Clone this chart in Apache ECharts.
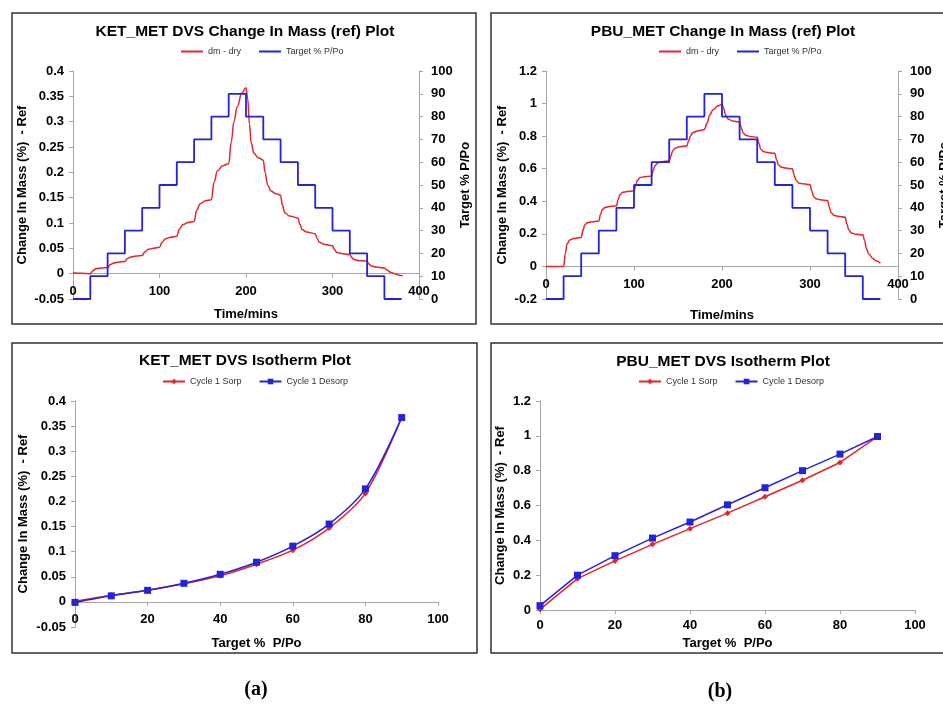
<!DOCTYPE html>
<html>
<head>
<meta charset="utf-8">
<script src="https://cdn.jsdelivr.net/npm/echarts@6/dist/echarts.min.js"></script>
<style>
  html, body { margin: 0; padding: 0; background: #fff; }
  #main { width: 943px; height: 704px; }
</style>
</head>
<body>
<div id="main"></div>
<script>
// humidity programme: start of each 20 min step and its setpoint (% P/Po)
var stepTime = [0, 20, 40, 60, 80, 100, 120, 140, 160, 180, 200, 220, 240, 260, 280, 300, 320, 340, 360, 380];
var stepRH   = [0, 10, 20, 30, 40, 50, 60, 70, 80, 90, 80, 70, 60, 50, 40, 30, 20, 10, 0, 0];

// KET_MET kinetic trace (dm - dry, %)
var ketTime = [0, 10, 20, 23, 27, 33, 40, 43, 47, 53, 60, 63, 67, 73, 80, 83, 87, 93, 100,
  103, 107, 113, 120, 123, 127, 133, 140, 143, 147, 153, 160, 163, 167, 173, 180,
  183, 186, 190, 195, 200, 202, 204, 206, 209, 214, 220, 222, 225, 229, 234, 240,
  242, 245, 250, 260, 262, 265, 270, 280, 282, 285, 290, 300, 302, 305, 310, 320,
  322, 325, 330, 340, 342, 345, 350, 360, 363, 367, 372, 377, 381];
var ketMass = [0.002, 0.001, 0.000, 0.006, 0.010, 0.011, 0.012, 0.018, 0.021, 0.023, 0.024, 0.030, 0.033, 0.035, 0.036, 0.043, 0.048, 0.050, 0.052,
  0.062, 0.069, 0.072, 0.074, 0.088, 0.097, 0.101, 0.103, 0.125, 0.138, 0.144, 0.146, 0.180, 0.203, 0.213, 0.217,
  0.260, 0.300, 0.330, 0.356, 0.367, 0.345, 0.295, 0.258, 0.238, 0.229, 0.224, 0.200, 0.175, 0.163, 0.158, 0.155,
  0.135, 0.120, 0.114, 0.110, 0.098, 0.087, 0.082, 0.079, 0.070, 0.062, 0.058, 0.055, 0.048, 0.042, 0.040, 0.038,
  0.032, 0.028, 0.026, 0.025, 0.019, 0.015, 0.013, 0.011, 0.007, 0.003, 0.000, -0.003, -0.004];

// PBU_MET kinetic trace (dm - dry, %)
var pbuTime = [0, 20, 22, 24, 27, 32, 40, 42, 44, 47, 52, 60, 62, 64, 67, 72, 80, 82, 84, 87, 92, 100,
  102, 104, 107, 112, 120, 122, 124, 127, 132, 140, 142, 144, 147, 152, 160, 162, 164, 167, 172, 180,
  183, 186, 190, 195, 200, 202, 204, 207, 212, 220, 222, 224, 227, 232, 240, 242, 244, 247, 252, 260,
  262, 264, 267, 272, 280, 282, 284, 287, 292, 300, 302, 304, 307, 312, 320, 322, 324, 327, 332, 340,
  342, 344, 347, 352, 360, 362, 364, 367, 371, 375, 380];
var pbuMass = [0, 0, 0.08, 0.14, 0.162, 0.172, 0.178, 0.22, 0.255, 0.268, 0.274, 0.279, 0.32, 0.35, 0.362, 0.368, 0.372, 0.41, 0.44, 0.455, 0.46, 0.464,
  0.50, 0.53, 0.546, 0.551, 0.555, 0.59, 0.62, 0.637, 0.643, 0.648, 0.68, 0.71, 0.727, 0.735, 0.74, 0.77, 0.80, 0.822, 0.832, 0.84,
  0.88, 0.93, 0.962, 0.985, 0.995, 0.97, 0.93, 0.905, 0.893, 0.887, 0.85, 0.82, 0.805, 0.798, 0.793, 0.755, 0.72, 0.705, 0.699, 0.695,
  0.655, 0.625, 0.61, 0.604, 0.60, 0.56, 0.53, 0.513, 0.507, 0.503, 0.465, 0.43, 0.415, 0.409, 0.405, 0.365, 0.33, 0.315, 0.308, 0.302,
  0.26, 0.225, 0.205, 0.198, 0.194, 0.16, 0.11, 0.075, 0.05, 0.035, 0.02];

// isotherms (end-of-step values)
var isoRH = [0, 10, 20, 30, 40, 50, 60, 70, 80, 90];
var ketSorp   = [0.001, 0.013, 0.023, 0.036, 0.052, 0.075, 0.103, 0.147, 0.216, 0.367];
var ketDesorp = [-0.001, 0.012, 0.023, 0.037, 0.055, 0.079, 0.111, 0.155, 0.225, 0.367];
var pbuSorp   = [0.004, 0.18, 0.282, 0.377, 0.467, 0.556, 0.65, 0.745, 0.847, 0.996];
var pbuDesorp = [0.025, 0.2, 0.312, 0.413, 0.505, 0.604, 0.702, 0.8, 0.895, 0.996];

var RED = '#e8232a';
var BLUE = '#2323dc';
var FONT = "'Liberation Sans', Arial, sans-serif";

function pairs(xs, ys) {
  return xs.map(function (x, i) { return [x, ys[i]]; });
}

var lblStyle = { color: '#000', fontWeight: 'bold', fontSize: 13, fontFamily: FONT };
var nameStyle = { color: '#000', fontWeight: 'bold', fontSize: 13, fontFamily: FONT };
var axLineStyle = { color: '#a6a6a6', width: 1 };
var axTick = { show: true, length: 4, lineStyle: { color: '#a6a6a6' } };

// labels and name stay anchored to the grid bottom, so margins are measured from there
function xAx(grid, max, interval, name, gap, margin, zeroIdx) {
  var line = { show: true, lineStyle: axLineStyle };
  if (zeroIdx != null) { line.onZero = true; line.onZeroAxisIndex = zeroIdx; } else { line.onZero = false; }
  return {
    type: 'value', gridIndex: grid, min: 0, max: max, interval: interval,
    name: name, nameLocation: 'middle', nameGap: gap, nameTextStyle: nameStyle,
    axisLine: line, axisTick: axTick, splitLine: { show: false },
    axisLabel: Object.assign({ margin: margin }, lblStyle)
  };
}

function yAx(grid, pos, min, max, interval, name, gap) {
  return {
    type: 'value', gridIndex: grid, position: pos, min: min, max: max, interval: interval,
    name: name, nameLocation: 'middle', nameGap: gap, nameTextStyle: nameStyle,
    axisLine: { show: true, onZero: false, lineStyle: axLineStyle },
    axisTick: axTick, splitLine: { show: false },
    axisLabel: Object.assign({ margin: pos === 'left' ? 9 : 12 }, lblStyle)
  };
}

function legend(left, top, names, noMarker) {
  return {
    left: left, top: top, itemWidth: 22, itemHeight: 7, itemGap: 17, padding: 0,
    selectedMode: false,
    data: names.map(function (n) {
      return noMarker ? { name: n, itemStyle: { opacity: 0 } } : { name: n };
    }),
    textStyle: { fontSize: 9, color: '#333', fontFamily: FONT }
  };
}

function title(x, y, text) {
  return {
    type: 'text', x: x, y: y,
    style: { text: text, fill: '#000', font: 'bold 15.5px ' + FONT, textAlign: 'center', textVerticalAlign: 'middle' }
  };
}

function border(x, y, w, h) {
  return {
    type: 'rect', shape: { x: x, y: y, width: w, height: h }, z: -1,
    style: { fill: 'none', stroke: '#333', lineWidth: 1.5 }
  };
}

var chart = echarts.init(document.getElementById('main'), null, { renderer: 'canvas' });

var option = {
  backgroundColor: '#fff',
  animation: false,
  textStyle: { fontFamily: FONT },
  grid: [
    { left: 73, top: 71, width: 346, height: 228, outerBoundsMode: 'none' },
    { left: 546, top: 71, width: 352, height: 228, outerBoundsMode: 'none' },
    { left: 75, top: 401, width: 363, height: 226, outerBoundsMode: 'none' },
    { left: 540, top: 401, width: 375, height: 209, outerBoundsMode: 'none' }
  ],
  xAxis: [
    xAx(0, 400, 100, 'Time/mins', 9, -14, 0),
    xAx(1, 400, 100, 'Time/mins', 10, -21, 2),
    xAx(2, 100, 20, 'Target %  P/Po', 10, -14, 4),
    xAx(3, 100, 20, 'Target %  P/Po', 27, 9, null)
  ],
  yAxis: [
    yAx(0, 'left', -0.05, 0.4, 0.05, 'Change In Mass (%)  - Ref', 44),
    yAx(0, 'right', 0, 100, 10, 'Target % P/Po', 40),
    yAx(1, 'left', -0.2, 1.2, 0.2, 'Change In Mass (%)  - Ref', 37),
    yAx(1, 'right', 0, 100, 10, 'Target % P/Po', 40),
    yAx(2, 'left', -0.05, 0.4, 0.05, 'Change In Mass (%)  - Ref', 45),
    yAx(3, 'left', 0, 1.2, 0.2, 'Change In Mass (%)  - Ref', 33)
  ],
  legend: [
    legend(180, 47, ['dm - dry', 'Target % P/Po'], true),
    legend(658, 47, ['dm - dry', 'Target % P/Po'], true),
    legend(162, 377, ['Cycle 1 Sorp', 'Cycle 1 Desorp'], false),
    legend(638, 377, ['Cycle 1 Sorp', 'Cycle 1 Desorp'], false)
  ],
  series: [
    { name: 'dm - dry', type: 'line', xAxisIndex: 0, yAxisIndex: 0, data: pairs(ketTime, ketMass),
      smooth: 0.4, smoothMonotone: 'x', symbol: 'none', lineStyle: { color: RED, width: 1.5 }, itemStyle: { color: RED } },
    { name: 'Target % P/Po', type: 'line', xAxisIndex: 0, yAxisIndex: 1, data: pairs(stepTime, stepRH),
      step: 'end', symbol: 'none', lineStyle: { color: BLUE, width: 1.8 }, itemStyle: { color: BLUE } },
    { name: 'dm - dry', type: 'line', xAxisIndex: 1, yAxisIndex: 2, data: pairs(pbuTime, pbuMass),
      smooth: 0.4, smoothMonotone: 'x', symbol: 'none', lineStyle: { color: RED, width: 1.5 }, itemStyle: { color: RED } },
    { name: 'Target % P/Po', type: 'line', xAxisIndex: 1, yAxisIndex: 3, data: pairs(stepTime, stepRH),
      step: 'end', symbol: 'none', lineStyle: { color: BLUE, width: 1.8 }, itemStyle: { color: BLUE } },
    { name: 'Cycle 1 Sorp', type: 'line', xAxisIndex: 2, yAxisIndex: 4, data: pairs(isoRH, ketSorp),
      smooth: 0.3, symbol: 'diamond', symbolSize: 6, lineStyle: { color: RED, width: 1.5 }, itemStyle: { color: RED } },
    { name: 'Cycle 1 Desorp', type: 'line', xAxisIndex: 2, yAxisIndex: 4, data: pairs(isoRH, ketDesorp).reverse(),
      smooth: 0.3, symbol: 'rect', symbolSize: 7, lineStyle: { color: BLUE, width: 1.5 }, itemStyle: { color: BLUE } },
    { name: 'Cycle 1 Sorp', type: 'line', xAxisIndex: 3, yAxisIndex: 5, data: pairs(isoRH, pbuSorp),
      symbol: 'diamond', symbolSize: 6, lineStyle: { color: RED, width: 1.5 }, itemStyle: { color: RED } },
    { name: 'Cycle 1 Desorp', type: 'line', xAxisIndex: 3, yAxisIndex: 5, data: pairs(isoRH, pbuDesorp).reverse(),
      symbol: 'rect', symbolSize: 7, lineStyle: { color: BLUE, width: 1.5 }, itemStyle: { color: BLUE } }
  ],
  graphic: [
    border(12, 13, 464, 311),
    border(491, 13, 470, 311),
    border(12, 343, 465, 310),
    border(491, 343, 470, 310),
    title(245, 32, 'KET_MET DVS Change In Mass (ref) Plot'),
    title(723, 32, 'PBU_MET Change In Mass (ref) Plot'),
    title(245, 361, 'KET_MET DVS Isotherm Plot'),
    title(723, 362, 'PBU_MET DVS Isotherm Plot'),
    { type: 'text', x: 256, y: 690, style: { text: '(a)', fill: '#000', font: 'bold 20px "Liberation Serif", serif', textAlign: 'center', textVerticalAlign: 'middle' } },
    { type: 'text', x: 720, y: 692, style: { text: '(b)', fill: '#000', font: 'bold 20px "Liberation Serif", serif', textAlign: 'center', textVerticalAlign: 'middle' } }
  ]
};

chart.setOption(option);
</script>
</body>
</html>
